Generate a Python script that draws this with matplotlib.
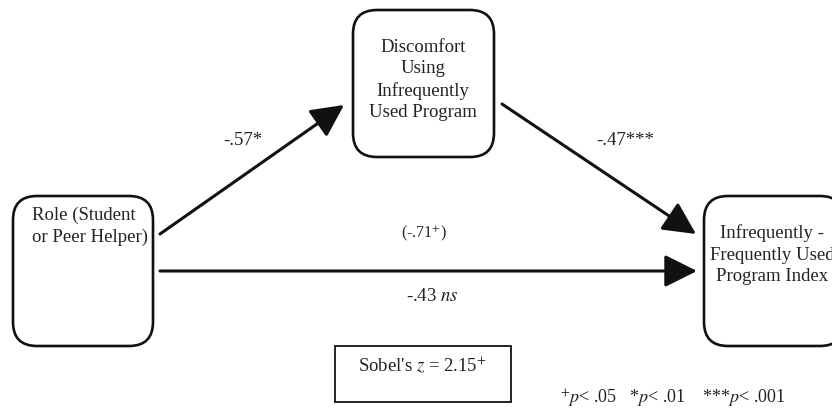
import matplotlib.pyplot as plt
from matplotlib.patches import FancyBboxPatch, FancyArrowPatch

plt.rcParams["font.family"] = ["Liberation Serif", "DejaVu Serif"]
plt.rcParams["mathtext.fontset"] = "stix"

# node texts
node_labels = [
    "Role (Student\nor Peer Helper)",
    "Discomfort\nUsing\nInfrequently\nUsed Program",
    "Infrequently -\nFrequently Used\nProgram Index",
]
# path coefficients
path_a = "-.57*"
path_b = "-.47***"
path_c_total = "(-.71$^{+}$)"
path_c_direct = "-.43 $ns$"
sobel_text = "Sobel's $z$ = 2.15$^{+}$"
footnote = "$^{+}$$p$< .05   *$p$< .01    ***$p$< .001"

fig = plt.figure(figsize=(8.32, 4.11), dpi=100)
ax = fig.add_axes([0, 0, 1, 1])
ax.set_xlim(0, 832)
ax.set_ylim(411, 0)
ax.axis("off")

ink = "#111111"
txt = "#222222"
fs = 13.5

# boxes: (x, y, w, h) in pixels
boxes = [(13, 196, 140, 150), (353, 10, 141, 147), (704, 196, 140, 150)]
for (x, y, w, h) in boxes:
    ax.add_patch(FancyBboxPatch((x, y), w, h,
                                boxstyle="round,pad=0,rounding_size=24",
                                fc="white", ec=ink, lw=1.9))

ax.text(32, 226, node_labels[0], ha="left", va="center", fontsize=fs,
        color=txt, linespacing=1.35)
ax.text(423, 80, node_labels[1], ha="center", va="center", fontsize=fs,
        color=txt, linespacing=1.35, multialignment="center")
ax.text(772, 255, node_labels[2], ha="center", va="center", fontsize=fs,
        color=txt, linespacing=1.35, multialignment="center")

arrow_style = "-|>,head_length=1.0,head_width=0.5"
for start, end in [((160, 234), (344, 105)),
                   ((502, 104), (696, 234)),
                   ((160, 271), (697, 271))]:
    ax.add_patch(FancyArrowPatch(start, end, arrowstyle=arrow_style,
                                 mutation_scale=20, lw=2.2,
                                 color=ink, shrinkA=0, shrinkB=0))

ax.text(243, 140, path_a, ha="center", va="center", fontsize=fs, color=txt)
ax.text(625, 140, path_b, ha="center", va="center", fontsize=fs, color=txt)
ax.text(424, 233, path_c_total, ha="center", va="center", fontsize=11.5, color=txt)
ax.text(432, 296, path_c_direct, ha="center", va="center", fontsize=fs, color=txt)

ax.add_patch(plt.Rectangle((335, 346), 176, 56, fc="white", ec=ink, lw=1.3))
ax.text(422, 366, sobel_text, ha="center", va="center", fontsize=fs, color=txt)

ax.text(673, 399, footnote, ha="center", va="center", fontsize=13, color=txt)

fig.savefig("out.png", dpi=100)
